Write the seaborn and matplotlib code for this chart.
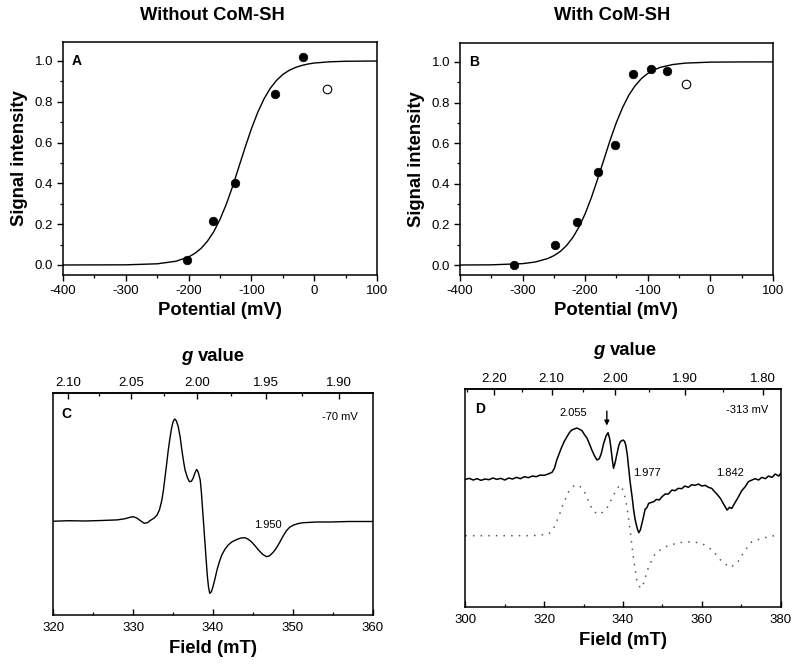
import matplotlib
matplotlib.use("Agg")
import matplotlib.pyplot as plt
import seaborn as sns
from matplotlib.ticker import MultipleLocator, FixedLocator

sns.set_style("ticks")
plt.rcParams['font.family'] = ['Liberation Sans', 'DejaVu Sans']
plt.rcParams['axes.unicode_minus'] = False
for k in ['text.color', 'axes.labelcolor', 'xtick.color', 'ytick.color', 'axes.edgecolor']:
    plt.rcParams[k] = 'black'

# ---------------- Panel A data ----------------
A_fit_x = [-400, -300, -250, -220, -200, -190, -180, -170, -160, -150, -140, -130, -120,
           -110, -100, -90, -80, -70, -60, -50, -40, -30, -20, -10, 0, 25, 50, 100]
A_fit_y = [0.0000, 0.0008, 0.0058, 0.0185, 0.0396, 0.057, 0.082, 0.117, 0.163, 0.224, 0.298,
           0.385, 0.481, 0.577, 0.668, 0.748, 0.814, 0.866, 0.905, 0.934, 0.954, 0.968, 0.978,
           0.985, 0.990, 0.996, 0.9986, 0.9998]
A_pts_x = [-203, -162, -126, -63, -18]
A_pts_y = [0.026, 0.214, 0.40, 0.84, 1.02]
A_open_x = [21]
A_open_y = [0.863]

# ---------------- Panel B data ----------------
B_fit_x = [-400, -350, -300, -280, -260, -250, -240, -230, -220, -210, -200, -190, -180, -170,
           -160, -150, -140, -130, -120, -110, -100, -90, -80, -60, -40, 0, 50, 100]
B_fit_y = [0.0001, 0.001, 0.0068, 0.0148, 0.0316, 0.046, 0.066, 0.095, 0.134, 0.186, 0.252,
           0.332, 0.423, 0.519, 0.615, 0.702, 0.776, 0.837, 0.883, 0.918, 0.943, 0.960, 0.973,
           0.987, 0.994, 0.9988, 0.9998, 1.0]
B_pts_x = [-313.6, -247.5, -213, -180, -153, -124, -95, -69]
B_pts_y = [0.0, 0.10, 0.214, 0.46, 0.59, 0.94, 0.966, 0.953]
B_open_x = [-38]
B_open_y = [0.889]

# ---------------- Panel C data (EPR, -70 mV) ----------------
C_field = [320.0, 322.0, 324.0, 326.0, 328.0, 329.0, 329.5, 330.0, 330.5, 331.0, 331.4, 331.8,
           332.1, 332.6, 333.0, 333.3, 333.6, 333.8, 334.0, 334.2, 334.4, 334.6, 334.8, 335.0,
           335.2, 335.4, 335.65, 335.9, 336.1, 336.3, 336.5, 336.8, 337.05, 337.3, 337.5,
           337.75, 337.95, 338.15, 338.4, 338.55, 338.7, 338.85, 339.0, 339.15, 339.3, 339.45,
           339.6, 339.8, 340.0, 340.25, 340.5, 340.8, 341.1, 341.5, 341.9, 342.4, 343.0, 343.5,
           344.0, 344.4, 344.8, 345.2, 345.7, 346.2, 346.7, 347.1, 347.6, 348.0, 348.4, 348.8,
           349.2, 349.6, 350.1, 350.7, 351.3, 353.0, 354.6, 357.0, 360.0]
C_signal = [-0.5, 0.0, -0.3, 0.2, 0.8, 2.0, 3.2, 4.0, 2.5, -0.5, -2.6, -2.0,
            0.0, 2.5, 5.7, 11.0, 20.7, 31.0, 44.0, 57.0, 70.7, 82.0, 92.0, 99.0,
            101.7, 100.0, 94.0, 83.0, 70.7, 60.0, 50.7, 43.0, 39.0, 39.5, 42.3,
            48.0, 51.3, 48.5, 40.7, 28.0, 10.7, -6.0, -22.7, -40.0, -56.0, -67.0,
            -72.7, -71.0, -66.0, -58.0, -49.3, -41.0, -34.3, -28.5, -24.3, -21.0, -18.7, -17.3,
            -17.0, -18.5, -21.0, -24.5, -29.3, -33.5, -36.0, -35.0, -31.0, -26.5, -21.0, -15.0,
            -10.0, -6.5, -4.3, -2.8, -2.0, -1.3, -1.3, -0.8, -0.8]

# ---------------- Panel D data (EPR, -313 mV) ----------------
D_field = [300.0, 301.0, 302.0, 303.0, 304.0, 305.0, 306.0, 307.0, 308.0, 309.0, 310.0, 311.0,
           312.0, 313.0, 314.0, 315.0, 316.0, 317.0, 318.0, 319.0, 320.0, 321.0, 322.0, 322.6,
           323.2, 324.0, 324.5, 325.2, 325.8, 326.4, 327.0, 327.6, 328.3, 329.0, 329.6, 330.3,
           330.9, 331.5, 332.1, 332.8, 333.4, 334.0, 334.5, 335.1, 335.7, 336.2, 336.6, 336.9,
           337.3, 337.6, 338.0, 338.5, 338.9, 339.3, 340.0, 340.4, 340.7, 341.1, 341.4, 341.8,
           342.3, 342.7, 343.1, 343.6, 344.0, 344.4, 344.8, 345.2, 345.6, 346.1, 346.5, 347.0,
           347.8, 348.5, 349.2, 349.9, 350.7, 351.5, 352.4, 353.2, 354.0, 354.9, 355.7, 356.6,
           357.4, 358.3, 359.1, 360.0, 360.9, 361.7, 362.5, 363.0, 363.8, 364.7, 365.5, 366.4,
           367.0, 367.6, 368.4, 369.3, 370.1, 371.0, 371.8, 372.7, 373.5, 374.4, 375.2, 376.1,
           376.9, 377.8, 378.6, 379.5, 380.0]
D_exp = [-178, -175, -180, -176, -181, -177, -179, -174, -178, -175, -180, -174,
         -177, -172, -176, -170, -173, -168, -170, -165, -166, -162, -157, -145,
         -120, -95, -80, -62, -50, -38, -30, -27, -24, -28, -32, -45,
         -55, -72, -90, -108, -120, -116, -100, -70, -48, -38, -55, -80,
         -120, -145, -128, -100, -78, -65, -60, -64, -75, -105, -140, -185,
         -230, -270, -300, -325, -338, -330, -310, -290, -268, -262, -250, -248,
         -245, -238, -240, -230, -222, -222, -210, -212, -205, -206, -198, -202,
         -194, -196, -192, -198, -196, -202, -205, -212, -222, -235, -252, -270,
         -262, -265, -248, -230, -212, -200, -185, -180, -176, -180, -172, -176,
         -168, -172, -162, -168, -160]
D_sim_field = [300.0, 308.5, 316.9, 321.1, 322.4, 323.7, 324.9, 326.2, 327.5, 328.7, 330.0,
               331.3, 332.5, 334.2, 335.9, 337.2, 338.5, 339.3, 340.2, 341.0, 341.8, 342.7,
               343.5, 344.4, 345.2, 346.5, 348.2, 350.7, 354.1, 357.5, 360.0, 362.6, 365.1,
               367.2, 368.9, 371.0, 372.7, 375.2, 377.8, 379.9]
D_sim = [-347, -347, -347, -343, -325, -290, -250, -215, -198, -195, -210,
         -245, -275, -283, -265, -235, -205, -195, -215, -260, -330, -420,
         -480, -505, -490, -440, -400, -380, -368, -365, -370, -390, -425,
         -442, -430, -390, -365, -355, -348, -345]

# ---------------- figure ----------------
fig = plt.figure(figsize=(8, 6.72), dpi=100)
TICK_FS = 9.5
LAB_FS = 13.3


def style_common(ax):
    for s in ax.spines.values():
        s.set_linewidth(1.1)
        s.set_color('black')
        s.set_visible(True)


def potential_panel(ax, fx, fy, px, py, ox, oy, letter):
    sns.lineplot(x=fx, y=fy, ax=ax, color='black', linewidth=1.0, sort=False, estimator=None)
    sns.scatterplot(x=px, y=py, ax=ax, color='black', s=38, edgecolor='black', linewidth=0.5, zorder=3)
    sns.scatterplot(x=ox, y=oy, ax=ax, facecolor='white', s=38, edgecolor='black', linewidth=0.8, zorder=3)
    ax.set_xlim(-400, 100)
    ax.set_ylim(-0.049, 1.093)
    ax.xaxis.set_major_locator(MultipleLocator(100))
    ax.xaxis.set_minor_locator(MultipleLocator(50))
    ax.yaxis.set_minor_locator(MultipleLocator(0.1))
    ax.set_yticks([0.0, 0.2, 0.4, 0.6, 0.8, 1.0])
    ax.set_yticklabels(['0.0', '0.2', '0.4', '0.6', '0.8', '1.0'])
    ax.tick_params(which='major', direction='out', length=4, width=1, labelsize=TICK_FS, pad=3)
    ax.tick_params(which='minor', direction='out', length=2.5, width=0.9)
    ax.set_xlabel('Potential (mV)', fontsize=LAB_FS, fontweight='bold', labelpad=4)
    ax.set_ylabel('Signal intensity', fontsize=LAB_FS, fontweight='bold', labelpad=5)
    ax.text(-377.7, 1.0, letter, fontsize=10, fontweight='bold', ha='center', va='center')
    style_common(ax)


axA = fig.add_axes([0.0788, 0.5908, 0.3925, 0.3467])
potential_panel(axA, A_fit_x, A_fit_y, A_pts_x, A_pts_y, A_open_x, A_open_y, 'A')
axB = fig.add_axes([0.575, 0.5908, 0.391, 0.3452])
potential_panel(axB, B_fit_x, B_fit_y, B_pts_x, B_pts_y, B_open_x, B_open_y, 'B')

fig.text(0.266, 1 - 15 / 672, 'Without CoM-SH', fontsize=13.2, fontweight='bold', ha='center', va='center')
fig.text(0.765, 1 - 15 / 672, 'With CoM-SH', fontsize=13.2, fontweight='bold', ha='center', va='center')

K = 676.0


def b2g(b):
    return K / b


def g2b(g):
    return K / g


def epr_panel(ax, xlim, ylim, major_g, minor_g, major_b, minor_b):
    ax.set_xlim(*xlim)
    ax.set_ylim(*ylim)
    ax.set_yticks([])
    ax.xaxis.set_major_locator(MultipleLocator(major_b))
    ax.xaxis.set_minor_locator(MultipleLocator(minor_b))
    ax.tick_params(which='major', direction='in', length=4, width=1, labelsize=TICK_FS, pad=5)
    ax.tick_params(which='minor', direction='in', length=2.5, width=0.9)
    ax.set_xlabel('Field (mT)', fontsize=LAB_FS, fontweight='bold', labelpad=4)
    sec = ax.secondary_xaxis('top', functions=(b2g, g2b))
    sec.xaxis.set_major_locator(FixedLocator(major_g))
    sec.xaxis.set_minor_locator(FixedLocator(minor_g))
    sec.set_xticklabels(['%.2f' % g for g in major_g])
    sec.tick_params(which='major', direction='in', length=4, width=1, labelsize=TICK_FS, pad=3)
    sec.tick_params(which='minor', direction='in', length=2.5, width=0.9)
    sec.spines['top'].set_linewidth(1.1)
    style_common(ax)
    return sec


def g_label(xc, yc):
    # bold-italic "g" followed by bold " value", centred on (xc, yc) in pixels
    em = LAB_FS * 100 / 72.0
    total = 3.446 * em
    left = xc - total / 2
    fig.text(left / 800, 1 - yc / 672, 'g', fontsize=LAB_FS, fontweight='bold', style='italic',
             ha='left', va='center')
    fig.text((left + 0.889 * em) / 800, 1 - yc / 672, 'value', fontsize=LAB_FS, fontweight='bold',
             ha='left', va='center')


axC = fig.add_axes([0.0666, 0.0848, 0.3993, 0.3304])
sns.lineplot(x=C_field, y=C_signal, ax=axC, color='black', linewidth=1.0, sort=False, estimator=None)
epr_panel(axC, (320, 360), (-94.3, 127.7), [2.10, 2.05, 2.00, 1.95, 1.90],
          [2.075, 2.025, 1.975, 1.925], 10, 5)
axC.text(321.7, 106.7, 'C', fontsize=10, fontweight='bold', ha='center', va='center')
axC.text(355.9, 103.4, '-70 mV', fontsize=8, ha='center', va='center')
axC.text(346.9, -4.3, '1.950', fontsize=8, ha='center', va='center')
g_label(213, 356.7)

axD = fig.add_axes([0.5816, 0.0967, 0.3943, 0.3244])
sns.lineplot(x=D_field, y=D_exp, ax=axD, color='black', linewidth=1.1, sort=False, estimator=None)
sns.lineplot(x=D_sim_field, y=D_sim, ax=axD, color='0.35', linewidth=1.1, sort=False,
             estimator=None, linestyle=(0, (1, 4)))
epr_panel(axD, (300, 380), (-561, 93), [2.20, 2.10, 2.00, 1.90, 1.80],
          [2.25, 2.15, 2.05, 1.95, 1.85], 20, 10)
axD.text(303.7, 33, 'D', fontsize=10, fontweight='bold', ha='center', va='center')
axD.text(371.4, 30, '-313 mV', fontsize=8, ha='center', va='center')
axD.text(327.4, 22, '2.055', fontsize=8, ha='center', va='center')
axD.text(346.1, -160, '1.977', fontsize=8, ha='center', va='center')
axD.text(367.2, -160, '1.842', fontsize=8, ha='center', va='center')
axD.annotate('', xy=(335.9, -25), xytext=(335.9, 35),
             arrowprops=dict(arrowstyle='-|>', color='black', lw=1.0, mutation_scale=7))
g_label(625, 350.7)

fig.savefig('out.png', dpi=100)
